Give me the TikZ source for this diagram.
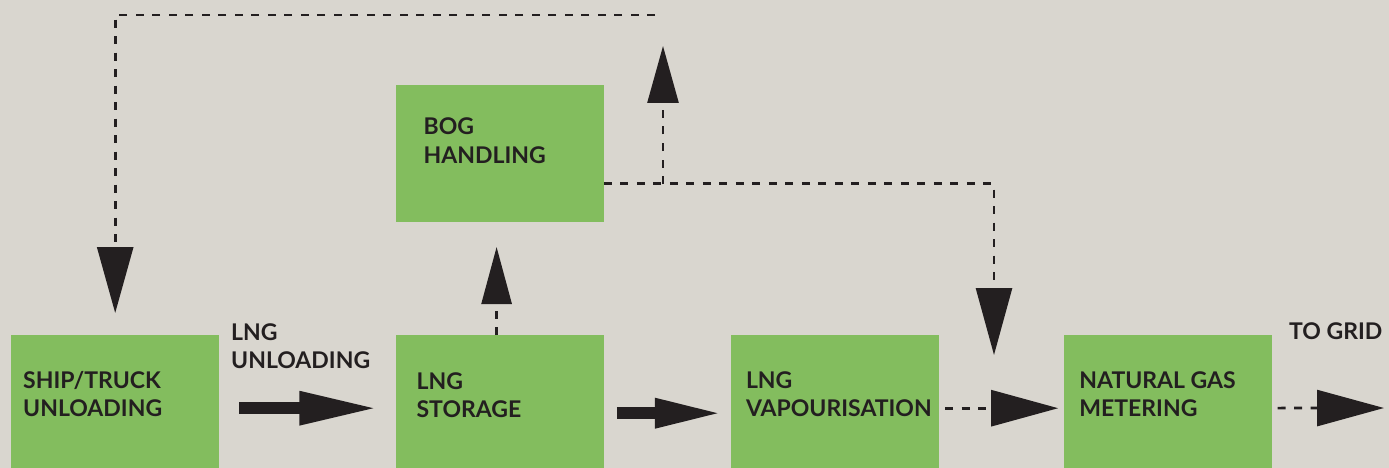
\documentclass[tikz,border=0pt]{standalone}
\usepackage{fontspec}
\setmainfont{Lato}
\usetikzlibrary{positioning,arrows.meta}

\definecolor{bggrey}{HTML}{D9D6CF}
\definecolor{boxgreen}{HTML}{83BD5E}
\definecolor{inkblack}{HTML}{231F20}

\tikzset{
  box/.style={fill=boxgreen, minimum width=208pt, minimum height=146pt, inner sep=0pt, anchor=north west},
  boxtext/.style={text=inkblack, font=\fontsize{23}{28.5}\selectfont\bfseries, align=left, inner sep=0pt, anchor=north west},
  fatarrow/.style={draw=inkblack, line width=12pt},
  dashline/.style={draw=inkblack, line width=2.7pt, dash pattern=on 8pt off 8.5pt},
}

\begin{document}
\begin{tikzpicture}[x=1pt, y=-1pt]
  \useasboundingbox (0,0) rectangle (1389,468);
  \clip (0,0) rectangle (1389,468);
  \fill[bggrey] (0,0) rectangle (1389,468);

  % Nodes
  \node[box] (SHIP) at (11,335) {};
  \node[box, right=176pt of SHIP] (STOR) {};
  \node[box, right=127pt of STOR] (VAP) {};
  \node[box, right=125pt of VAP] (MET) {};
  \node[box, above=113pt of STOR, minimum height=137pt] (BOG) {};

  % Texts
  \node[boxtext] (SHIPt) at ([shift={(12pt,-36pt)}]SHIP.north west) {SHIP/TRUCK\\UNLOADING};
  \node[boxtext] (STORt) at ([shift={(21pt,-37pt)}]STOR.north west) {LNG\\STORAGE};
  \node[boxtext] (VAPt) at ([shift={(15pt,-36pt)}]VAP.north west) {LNG\\VAPOURISATION};
  \node[boxtext] (METt) at ([shift={(15pt,-36pt)}]MET.north west) {NATURAL GAS\\METERING};
  \node[boxtext] (BOGt) at ([shift={(28pt,-33pt)}]BOG.north west) {BOG\\HANDLING};
  \node[boxtext] (UNLt) at (231,323) {LNG\\UNLOADING};
  \node[boxtext] (GRIDt) at (1289,322) {TO GRID};

  % Free ends
  \coordinate (GRID) at (1384,408);
  \coordinate (DROP) at (994,355);
  \coordinate (TEE) at (663,184);
  \coordinate (VENT) at (663,46);
  \coordinate (RET) at (655,15);

  % Arrows
  \draw[fatarrow, -{Triangle[length=79pt, width=31pt]}, shorten <=20pt, shorten >=17pt] (SHIP) -- (STOR);
  \draw[fatarrow, -{Triangle[length=69pt, width=27pt]}] ([shift={(13pt,-5pt)}]STOR.east) -- ([shift={(-7pt,-5pt)}]VAP.west);
  \draw[dashline, -{Triangle[length=67pt, width=36pt]}, shorten <=6pt, shorten >=6pt] (VAP) -- (MET);
  \draw[dashline, -{Triangle[length=67pt, width=36pt]}, shorten <=5pt] (MET) -- (GRID);
  \draw[dashline, -{Triangle[length=57pt, width=30pt]}, shorten >=25pt] ([xshift=-3pt]STOR.north) -- ([xshift=-3pt]BOG.south);
  \draw[dashline, -{Triangle[length=67pt, width=36pt]}] ([yshift=-30.5pt]BOG.east) -| (DROP);
  \draw[dashline, -{Triangle[length=57pt, width=31pt]}] (TEE) -- (VENT);
  \draw[dashline, -{Triangle[length=66pt, width=36pt]}, shorten >=22pt] (RET) -| (SHIP.north);

\end{tikzpicture}
\end{document}
